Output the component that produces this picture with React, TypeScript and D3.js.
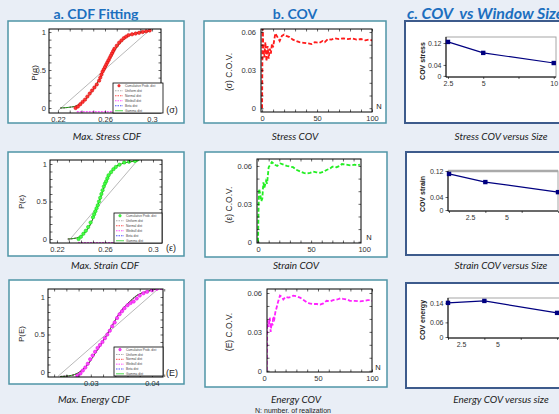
import React, { useEffect, useRef } from 'react';
import * as d3 from 'd3';

// ---- datos ----
// CDF empírica y ajustes (valor, probabilidad acumulada)
const stressEcdf: [number, number][] = [
  [0.235, 0.0], [0.237, 0.02], [0.239, 0.05], [0.241, 0.08], [0.243, 0.11], [0.245, 0.15],
  [0.247, 0.19], [0.249, 0.23], [0.251, 0.27], [0.253, 0.31], [0.255, 0.36], [0.256, 0.40],
  [0.257, 0.44], [0.258, 0.48], [0.259, 0.51], [0.26, 0.54], [0.261, 0.57], [0.262, 0.6],
  [0.263, 0.63], [0.264, 0.66], [0.265, 0.69], [0.266, 0.72], [0.267, 0.75], [0.268, 0.78],
  [0.27, 0.82], [0.272, 0.86], [0.274, 0.89], [0.276, 0.92], [0.278, 0.94], [0.28, 0.96],
  [0.283, 0.97], [0.286, 0.98], [0.289, 0.99], [0.292, 1.0], [0.295, 1.01], [0.298, 1.02],
];
const stressFit: [number, number][] = [
  [0.222, 0.0], [0.23, 0.01], [0.236, 0.03], [0.24, 0.07], [0.245, 0.14], [0.25, 0.25],
  [0.255, 0.37], [0.26, 0.52], [0.265, 0.67], [0.27, 0.8], [0.275, 0.89], [0.28, 0.95],
  [0.285, 0.98], [0.292, 1.0], [0.298, 1.01],
];
const stressUniform: [number, number][] = [[0.22, -0.036], [0.299, 1.04]];
const stressWeibull: [number, number][] = [[0.236, -0.05], [0.3, -0.05]];

const strainEcdf: [number, number][] = [
  [0.238, 0.0], [0.24, 0.03], [0.242, 0.07], [0.244, 0.11], [0.246, 0.16], [0.248, 0.22],
  [0.25, 0.29], [0.251, 0.33], [0.252, 0.37], [0.253, 0.41], [0.254, 0.45], [0.255, 0.5],
  [0.256, 0.55], [0.257, 0.6], [0.258, 0.65], [0.259, 0.7], [0.26, 0.74], [0.261, 0.77],
  [0.262, 0.81], [0.263, 0.85], [0.265, 0.89], [0.267, 0.93], [0.269, 0.96], [0.272, 0.99],
  [0.276, 1.02], [0.28, 1.03], [0.285, 1.04], [0.287, 1.06],
];
const strainFit: [number, number][] = [
  [0.229, 0.0], [0.235, 0.01], [0.24, 0.04], [0.244, 0.1], [0.248, 0.2], [0.252, 0.36],
  [0.256, 0.54], [0.26, 0.72], [0.264, 0.86], [0.268, 0.95], [0.272, 0.99], [0.278, 1.02],
  [0.287, 1.04],
];
const strainUniform: [number, number][] = [[0.2294, -0.03], [0.2883, 1.07]];
const strainWeibull: [number, number][] = [[0.2375, -0.05], [0.3075, -0.05]];

const energyEcdf: [number, number][] = [
  [0.0278, -0.05], [0.0283, -0.02], [0.0287, 0.02], [0.0291, 0.06], [0.0295, 0.11], [0.0299, 0.17],
  [0.0303, 0.22], [0.0307, 0.27], [0.0311, 0.32], [0.0315, 0.36], [0.0319, 0.4], [0.0323, 0.45],
  [0.0327, 0.5], [0.0331, 0.55], [0.0335, 0.61], [0.0339, 0.66], [0.0343, 0.72], [0.0347, 0.77],
  [0.0351, 0.81], [0.0355, 0.85], [0.036, 0.89], [0.0365, 0.92], [0.037, 0.94], [0.0375, 0.98],
  [0.038, 1.02], [0.0386, 1.05], [0.0392, 1.07], [0.04, 1.09], [0.0408, 1.11], [0.0415, 1.12],
];
const energyFit: [number, number][] = [
  [0.025, -0.06], [0.0265, -0.05], [0.0275, -0.03], [0.0285, 0.02], [0.0295, 0.1], [0.0305, 0.22],
  [0.0315, 0.35], [0.0325, 0.48], [0.0335, 0.62], [0.0345, 0.76], [0.0355, 0.87], [0.0365, 0.95],
  [0.0375, 1.02], [0.039, 1.07], [0.041, 1.11],
];
const energyUniform: [number, number][] = [[0.02464, -0.057], [0.04117, 1.12]];

// C.O.V. según número de realizaciones (N, cov)
const stressCov: [number, number][] = [
  [0, 0], [0.5, 0.07], [1, 0.05], [2, 0.04], [3, 0.052], [4, 0.037], [5, 0.049], [6, 0.039],
  [7, 0.047], [8, 0.043], [9, 0.051], [10, 0.048], [12, 0.059], [14, 0.056], [16, 0.053],
  [18, 0.057], [20, 0.058], [22, 0.057], [25, 0.056], [28, 0.054], [31, 0.053], [34, 0.052],
  [38, 0.0515], [42, 0.051], [45, 0.0505], [48, 0.052], [52, 0.0515], [55, 0.053], [57, 0.052],
  [60, 0.0545], [63, 0.054], [66, 0.055], [70, 0.0545], [74, 0.055], [78, 0.0545], [82, 0.055],
  [86, 0.054], [90, 0.0545], [94, 0.0535], [97, 0.054], [100, 0.0535],
];
const strainCov: [number, number][] = [
  [0, 0], [0.5, 0.028], [1, 0.042], [2, 0.038], [3, 0.032], [4, 0.034], [5, 0.047], [6, 0.043],
  [7.5, 0.048], [8.5, 0.046], [10, 0.059], [13, 0.063], [16, 0.061], [18, 0.06], [21, 0.062],
  [24, 0.061], [27, 0.06], [30, 0.0595], [33, 0.059], [36, 0.057], [40, 0.0555], [43, 0.0545],
  [46, 0.054], [49, 0.0545], [52, 0.0555], [55, 0.055], [58.5, 0.0545], [62, 0.0555], [65, 0.057],
  [68, 0.058], [70, 0.0595], [74, 0.059], [77, 0.06], [79, 0.0615], [83, 0.061], [87, 0.0605],
  [91, 0.061], [94, 0.0605], [96, 0.061],
];
const energyCov: [number, number][] = [
  [2.5, 0], [3, 0.039], [3.8, 0.034], [4.6, 0.036], [5.4, 0.041], [6.2, 0.03], [7.1, 0.037],
  [7.9, 0.035], [8.6, 0.042], [9.6, 0.04], [10.5, 0.045], [11.8, 0.049], [13, 0.053], [14.8, 0.058],
  [16.5, 0.057], [17.9, 0.055], [20, 0.057], [22.5, 0.0565], [25, 0.057], [27.1, 0.058], [30, 0.0575],
  [33.3, 0.0565], [36, 0.055], [39.5, 0.053], [42, 0.052], [45.6, 0.0515], [49, 0.0515], [51.9, 0.051],
  [55, 0.052], [58, 0.054], [61, 0.0535], [64, 0.0545], [68, 0.055], [71, 0.056], [73.4, 0.0555],
  [77, 0.055], [79.6, 0.054], [84, 0.054], [88.9, 0.0535], [93, 0.054], [96, 0.0545], [98.1, 0.0545],
  [100, 0.054],
];

// COV frente al tamaño de ventana
const windowSizes = [2.5, 5, 10];
const covStressSize = [0.124, 0.084, 0.047];
const covStrainSize = [0.111, 0.086, 0.055];
const covEnergySize = [0.14, 0.148, 0.099];

// etiquetas de ejes
const cdfYTicks = [0, 0.5, 1];
const stressXTicks = [0.22, 0.26, 0.3];
const energyXTicks = [0.03, 0.04];
const covYTicks = [0, 0.03, 0.06];
const covXTicks = [0, 50, 100];
const sizeXTicks = [2.5, 5, 10];
const sizeXMarks = [2.5, 5, 7.5, 10];
const stressSizeYTicks = [0, 0.04, 0.12];
const energySizeYTicks = [0, 0.06, 0.14];

const legendLabels = ['Cumulative Prob. dist', 'Uniform dist', 'Normal dist', 'Weibull dist', 'Beta dist', 'Gamma dist'];

const AXIS_FONT = "'Liberation Sans', Arial, sans-serif";
const TEXT_FONT = "Lato, 'Open Sans', sans-serif";
const TEAL = '#4f95a7';
const NAVY_BOX = '#3d5b8c';
const TITLE_BLUE = '#1c6fbf';

// configuración de paneles (posiciones en píxeles)
const cdfPanels = [
  {
    box: [8, 21, 184, 123], plot: [49, 29, 161, 113], xDomain: [0.2124, 0.3076], yDomain: [-0.066, 1.04],
    xTicks: stressXTicks, minorX: d3.range(0.22, 0.3051, 0.01), ecdf: stressEcdf, fit: stressFit,
    uniform: stressUniform, weibull: stressWeibull, fill: '#ff3333', edge: '#d40000',
    yLabel: 'P(σ)', yLabelPos: [34, 73], unit: '(σ)', unitPos: [172, 113],
    caption: 'Max. Stress CDF', capPos: [107, 140], legend: [113, 83, 163, 113],
  },
  {
    box: [8, 152, 184, 256], plot: [50, 160, 162, 243], xDomain: [0.2142, 0.3075], yDomain: [-0.053, 1.053],
    xTicks: stressXTicks, minorX: d3.range(0.22, 0.3051, 0.01), ecdf: strainEcdf, fit: strainFit,
    uniform: strainUniform, weibull: strainWeibull, fill: '#44ff44', edge: '#11cc11',
    yLabel: 'P(ε)', yLabelPos: [21, 202], unit: '(ε)', unitPos: [171, 251],
    caption: 'Max. Strain CDF', capPos: [105, 269], legend: [114, 213, 162, 243],
  },
  {
    box: [9, 280, 184, 384], plot: [48, 289, 163, 377], xDomain: [0.023, 0.0418], yDomain: [-0.067, 1.107],
    xTicks: energyXTicks, minorX: d3.range(0.024, 0.0421, 0.002), ecdf: energyEcdf, fit: energyFit,
    uniform: energyUniform, weibull: energyFit, fill: '#ff44ff', edge: '#dd00dd',
    yLabel: 'P(E)', yLabelPos: [21, 334], unit: '(E)', unitPos: [172, 376],
    caption: 'Max. Energy CDF', capPos: [94, 403], legend: [114, 347, 163, 376],
  },
];

const covPanels = [
  {
    box: [204, 21, 386, 123], plot: [261, 29, 372, 112], xDomain: [-1, 100], yDomain: [-0.003, 0.0624],
    data: stressCov, color: '#ff1a1a', yLabel: '(σ) C.O.V.', yLabelPos: [229, 72], nPos: [379, 109],
    caption: 'Stress COV', capPos: [295, 140],
  },
  {
    box: [205, 152, 387, 257], plot: [257, 159, 361, 243], xDomain: [-1, 97], yDomain: [-0.001, 0.0655],
    data: strainCov, color: '#22ee22', yLabel: '(ε) C.O.V.', yLabelPos: [229, 205], nPos: [369, 240],
    caption: 'Strain COV', capPos: [296, 269],
  },
  {
    box: [205, 280, 387, 387], plot: [267, 289, 372, 372], xDomain: [2.8, 100], yDomain: [-0.001, 0.0631],
    data: energyCov, color: '#ff22ff', yLabel: '(E) C.O.V.', yLabelPos: [229, 332], nPos: [378, 370],
    caption: 'Energy COV', capPos: [296, 403],
  },
];

const sizePanels = [
  {
    box: [405, 21, 580, 123], plot: [446, 37, 556, 77], xDomain: [2.36, 10.16], yDomain: [-0.004, 0.142],
    values: covStressSize, yTicks: stressSizeYTicks, shift: 0, thickTop: false,
    yLabel: 'COV stress', yLabelPos: [422, 61], caption: 'Stress COV versus Size', capPos: [501, 140],
  },
  {
    box: [406, 152, 580, 255], plot: [448, 171, 558, 211], xDomain: [2.43, 10], yDomain: [-0.003, 0.12],
    values: covStrainSize, yTicks: stressSizeYTicks, shift: 21, thickTop: true,
    yLabel: 'COV strain', yLabelPos: [422, 194], caption: 'Strain COV versus Size', capPos: [501, 269],
  },
  {
    box: [406, 283, 580, 388], plot: [448, 298, 560, 338], xDomain: [2.5, 10.2], yDomain: [-0.004, 0.16],
    values: covEnergySize, yTicks: energySizeYTicks, shift: 13, thickTop: false,
    yLabel: 'COV energy', yLabelPos: [422, 320], caption: 'Energy COV versus size', capPos: [501, 403],
  },
];

const styleAxis = (g: any, size = 7.5) => {
  g.select('.domain').remove();
  g.selectAll('line').attr('stroke', '#000').attr('stroke-width', 0.6);
  g.selectAll('text').attr('font-family', AXIS_FONT).attr('font-size', size).attr('fill', '#333');
  return g;
};

const addBox = (svg: any, b: number[], stroke: string, w: number) => {
  svg.append('rect')
    .attr('x', b[0]).attr('y', b[1])
    .attr('width', b[2] - b[0]).attr('height', b[3] - b[1])
    .attr('fill', '#fff').attr('stroke', stroke).attr('stroke-width', w);
};

const addCaption = (svg: any, text: string, pos: number[]) => {
  svg.append('text')
    .attr('x', pos[0]).attr('y', pos[1])
    .attr('text-anchor', 'middle')
    .attr('font-family', TEXT_FONT).attr('font-style', 'italic')
    .attr('font-size', 10).attr('fill', '#222')
    .text(text);
};

const addRotated = (svg: any, text: string, pos: number[], size: number, weight = 'normal') => {
  svg.append('text')
    .attr('transform', `translate(${pos[0]},${pos[1]}) rotate(-90)`)
    .attr('text-anchor', 'middle').attr('dominant-baseline', 'central')
    .attr('font-family', AXIS_FONT).attr('font-size', size).attr('font-weight', weight)
    .attr('fill', '#222')
    .text(text);
};

// marcas interiores en los cuatro lados del marco
const innerTicks = (svg: any, x: any, y: any, p: number[], xv: number[], yv: number[]) => {
  const [x0, y0, x1, y1] = p;
  const none = () => '';
  styleAxis(svg.append('g').attr('transform', `translate(0,${y1})`).call(d3.axisBottom(x).tickValues(xv).tickSize(-2.5).tickFormat(none)));
  styleAxis(svg.append('g').attr('transform', `translate(0,${y0})`).call(d3.axisTop(x).tickValues(xv).tickSize(-2.5).tickFormat(none)));
  styleAxis(svg.append('g').attr('transform', `translate(${x0},0)`).call(d3.axisLeft(y).tickValues(yv).tickSize(-2.5).tickFormat(none)));
  styleAxis(svg.append('g').attr('transform', `translate(${x1},0)`).call(d3.axisRight(y).tickValues(yv).tickSize(-2.5).tickFormat(none)));
};

const drawCdf = (svg: any, c: any, i: number) => {
  addBox(svg, c.box, TEAL, 1.5);
  const [x0, y0, x1, y1] = c.plot;
  const x = d3.scaleLinear().domain(c.xDomain).range([x0, x1]);
  const y = d3.scaleLinear().domain(c.yDomain).range([y1, y0]);
  const id = `clip-cdf-${i}`;
  svg.append('clipPath').attr('id', id).append('rect')
    .attr('x', x0).attr('y', y0).attr('width', x1 - x0).attr('height', y1 - y0);
  const g = svg.append('g').attr('clip-path', `url(#${id})`);
  const line = d3.line<[number, number]>().x(d => x(d[0])).y(d => y(d[1])).curve(d3.curveMonotoneX);

  g.append('path').attr('d', line(c.uniform)).attr('fill', 'none').attr('stroke', '#888').attr('stroke-width', 0.6);
  g.append('path').attr('d', line(c.weibull)).attr('fill', 'none').attr('stroke', '#ff00ff').attr('stroke-width', 0.9).attr('stroke-dasharray', '2,1');
  g.append('path').attr('d', line(c.fit)).attr('fill', 'none').attr('stroke', '#0000ff').attr('stroke-width', 0.7).attr('stroke-dasharray', '2,1');
  g.append('path').attr('d', line(c.fit)).attr('fill', 'none').attr('stroke', '#ff0000').attr('stroke-width', 0.7).attr('stroke-dasharray', '2,1');
  g.append('path').attr('d', line(c.fit)).attr('fill', 'none').attr('stroke', '#00aa00').attr('stroke-width', 0.8);
  g.selectAll('circle.m').data(c.ecdf).join('circle')
    .attr('cx', (d: number[]) => x(d[0])).attr('cy', (d: number[]) => y(d[1])).attr('r', 1.7)
    .attr('fill', c.fill).attr('stroke', c.edge).attr('stroke-width', 0.5);

  svg.append('rect').attr('x', x0).attr('y', y0).attr('width', x1 - x0).attr('height', y1 - y0)
    .attr('fill', 'none').attr('stroke', '#000').attr('stroke-width', 1);
  innerTicks(svg, x, y, c.plot, c.minorX, d3.range(0, 1.01, 0.1));

  styleAxis(svg.append('g').attr('transform', `translate(0,${y1})`)
    .call(d3.axisBottom(x).tickValues(c.xTicks).tickSize(0).tickPadding(4).tickFormat((d: any) => String(d))));
  styleAxis(svg.append('g').attr('transform', `translate(${x0},0)`)
    .call(d3.axisLeft(y).tickValues(cdfYTicks).tickSize(0).tickPadding(3).tickFormat((d: any) => String(d))));

  addRotated(svg, c.yLabel, c.yLabelPos, 8);
  svg.append('text').attr('x', c.unitPos[0]).attr('y', c.unitPos[1]).attr('text-anchor', 'middle')
    .attr('font-family', AXIS_FONT).attr('font-size', 9).attr('fill', '#222').text(c.unit);

  // leyenda
  const [lx0, ly0, lx1, ly1] = c.legend;
  svg.append('rect').attr('x', lx0).attr('y', ly0).attr('width', lx1 - lx0).attr('height', ly1 - ly0)
    .attr('fill', '#fff').attr('stroke', '#000').attr('stroke-width', 0.8);
  const styles = [
    { color: c.fill, dash: null }, { color: '#888', dash: '1.5,1' }, { color: '#ff0000', dash: '1.5,1' },
    { color: '#ff00ff', dash: '1.5,1' }, { color: '#0000ff', dash: '1.5,1' }, { color: '#00cc00', dash: null },
  ];
  const rowH = (ly1 - ly0) / legendLabels.length;
  legendLabels.forEach((lab, k) => {
    const cy = ly0 + rowH * (k + 0.55);
    if (k === 0) {
      svg.append('circle').attr('cx', lx0 + 6).attr('cy', cy).attr('r', 1.3).attr('fill', c.fill).attr('stroke', c.edge).attr('stroke-width', 0.4);
    } else {
      svg.append('line').attr('x1', lx0 + 2).attr('x2', lx0 + 10).attr('y1', cy).attr('y2', cy)
        .attr('stroke', styles[k].color).attr('stroke-width', 0.7).attr('stroke-dasharray', styles[k].dash);
    }
    svg.append('text').attr('x', lx0 + 12).attr('y', cy + 1.1)
      .attr('font-family', AXIS_FONT).attr('font-size', 3.2).attr('fill', '#444').text(lab);
  });

  addCaption(svg, c.caption, c.capPos);
};

const drawCov = (svg: any, c: any, i: number) => {
  addBox(svg, c.box, TEAL, 1.5);
  const [x0, y0, x1, y1] = c.plot;
  const x = d3.scaleLinear().domain(c.xDomain).range([x0, x1]);
  const y = d3.scaleLinear().domain(c.yDomain).range([y1, y0]);
  const id = `clip-cov-${i}`;
  svg.append('clipPath').attr('id', id).append('rect')
    .attr('x', x0).attr('y', y0).attr('width', x1 - x0).attr('height', y1 - y0);
  const line = d3.line<[number, number]>().x(d => x(d[0])).y(d => y(d[1]));
  svg.append('g').attr('clip-path', `url(#${id})`).append('path')
    .attr('d', line(c.data)).attr('fill', 'none').attr('stroke', c.color)
    .attr('stroke-width', 1.8).attr('stroke-dasharray', '4,2');

  svg.append('rect').attr('x', x0).attr('y', y0).attr('width', x1 - x0).attr('height', y1 - y0)
    .attr('fill', 'none').attr('stroke', '#000').attr('stroke-width', 1);
  innerTicks(svg, x, y, c.plot, d3.range(0, 101, 10).filter(v => v >= c.xDomain[0] && v <= c.xDomain[1]), d3.range(0, 0.0601, 0.01));

  styleAxis(svg.append('g').attr('transform', `translate(0,${y1})`)
    .call(d3.axisBottom(x).tickValues(covXTicks).tickSize(0).tickPadding(4).tickFormat((d: any) => String(d))));
  styleAxis(svg.append('g').attr('transform', `translate(${x0},0)`)
    .call(d3.axisLeft(y).tickValues(covYTicks).tickSize(0).tickPadding(5).tickFormat((d: any) => String(d))));

  addRotated(svg, c.yLabel, c.yLabelPos, 8.5);
  svg.append('text').attr('x', c.nPos[0]).attr('y', c.nPos[1]).attr('text-anchor', 'middle')
    .attr('font-family', AXIS_FONT).attr('font-size', 7.5).attr('fill', '#222').text('N');
  addCaption(svg, c.caption, c.capPos);
};

const drawSize = (svg: any, c: any) => {
  addBox(svg, c.box, NAVY_BOX, 2);
  const [x0, y0, x1, y1] = c.plot;
  const x = d3.scaleLinear().domain(c.xDomain).range([x0, x1]);
  const y = d3.scaleLinear().domain(c.yDomain).range([y1, y0]);

  svg.append('rect').attr('x', x0).attr('y', y0).attr('width', x1 - x0).attr('height', y1 - y0)
    .attr('fill', 'none').attr('stroke', '#a6a6a6').attr('stroke-width', 1);
  if (c.thickTop) {
    svg.append('line').attr('x1', x0).attr('x2', x1).attr('y1', y0).attr('y2', y0)
      .attr('stroke', '#aaa').attr('stroke-width', 2.5);
  }

  const left = svg.append('g').attr('transform', `translate(${x0},0)`)
    .call(d3.axisLeft(y).tickValues(c.yTicks).tickSize(2.5).tickSizeOuter(0).tickPadding(2).tickFormat((d: any) => String(d)));
  styleAxis(left, 7);
  left.append('line').attr('y1', y0).attr('y2', y1).attr('stroke', '#000').attr('stroke-width', 1);

  const bottom = svg.append('g').attr('transform', `translate(0,${y1})`)
    .call(d3.axisBottom(x).tickValues(sizeXMarks).tickSize(2).tickFormat(() => ''));
  styleAxis(bottom);
  bottom.append('line').attr('x1', x0).attr('x2', x1).attr('stroke', '#000').attr('stroke-width', 1);
  styleAxis(svg.append('g').attr('transform', `translate(${c.shift},${y1})`)
    .call(d3.axisBottom(x).tickValues(sizeXTicks).tickSize(0).tickPadding(4).tickFormat((d: any) => String(d))), 7);

  const pts = windowSizes.map((w, k) => [w, c.values[k]] as [number, number]);
  const line = d3.line<[number, number]>().x(d => x(d[0])).y(d => y(d[1]));
  svg.append('path').attr('d', line(pts)).attr('fill', 'none').attr('stroke', '#000080').attr('stroke-width', 1.2);
  svg.selectAll(null).data(pts).join('rect')
    .attr('x', (d: number[]) => x(d[0]) - 2.2).attr('y', (d: number[]) => y(d[1]) - 2.2)
    .attr('width', 4.4).attr('height', 4.4).attr('fill', '#000080');

  addRotated(svg, c.yLabel, c.yLabelPos, 7, 'bold');
  addCaption(svg, c.caption, c.capPos);
};

export default function App() {
  const svgRef = useRef<SVGSVGElement>(null);

  useEffect(() => {
    const svg = d3.select(svgRef.current);
    svg.selectAll('*').remove();

    svg.append('rect').attr('width', 559).attr('height', 414).attr('fill', '#e9eef6');

    // títulos de columna
    const titles = [
      { t: 'a. CDF Fitting', x: 96, anchor: 'middle', italic: false, size: 14 },
      { t: 'b. COV', x: 295, anchor: 'middle', italic: false, size: 14 },
      { t: 'c. COV  vs Window Size', x: 407, anchor: 'start', italic: true, size: 16 },
    ];
    titles.forEach(d => {
      svg.append('text').attr('x', d.x).attr('y', 19).attr('text-anchor', d.anchor)
        .attr('xml:space', 'preserve')
        .attr('font-family', TEXT_FONT).attr('font-weight', 'bold').attr('font-size', d.size)
        .attr('font-style', d.italic ? 'italic' : 'normal')
        .style('white-space', 'pre')
        .attr('fill', TITLE_BLUE).text(d.t);
    });

    cdfPanels.forEach((c, i) => drawCdf(svg, c, i));
    covPanels.forEach((c, i) => drawCov(svg, c, i));
    sizePanels.forEach(c => drawSize(svg, c));

    svg.append('text').attr('x', 293).attr('y', 413).attr('text-anchor', 'middle')
      .attr('font-family', AXIS_FONT).attr('font-size', 7).attr('fill', '#222')
      .text('N: number. of realization');
  }, []);

  return (
    <svg ref={svgRef} width={559} height={414}
      style={{ position: 'absolute', left: 0, top: 0, display: 'block' }} />
  );
}
